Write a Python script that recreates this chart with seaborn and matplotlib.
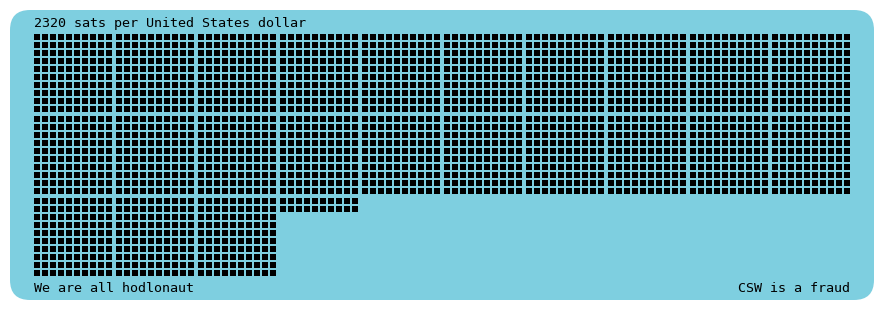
import matplotlib
matplotlib.use("Agg")
import matplotlib.pyplot as plt
from matplotlib.patches import FancyBboxPatch
import seaborn as sns
import pandas as pd

# ---- data ----
sats_per_dollar = 2320
currency = "United States dollar"
title_text = f"{sats_per_dollar} sats per {currency}"
footer_left = "We are all hodlonaut"
footer_right = "CSW is a fraud"

# ---- layout constants (pixels) ----
W, H = 884, 310
bg = "#7ecfe0"
x0, y0 = 34, 34
cell = 8
sq = 6
block_pitch = 82
blocks_per_row = 10

rows = []
for i in range(sats_per_dollar):
    block, within = divmod(i, 100)
    r, c = divmod(within, 10)
    by, bx = divmod(block, blocks_per_row)
    rows.append({
        "x": x0 + bx * block_pitch + c * cell + sq / 2,
        "y": y0 + by * block_pitch + r * cell + sq / 2,
    })
df = pd.DataFrame(rows)

sns.set_theme(style="white")
plt.rcParams["font.family"] = ["DejaVu Sans Mono"]

fig = plt.figure(figsize=(W / 100, H / 100), dpi=100)
fig.patch.set_facecolor("white")
ax = fig.add_axes([0, 0, 1, 1])

box = FancyBboxPatch((10 + 20, 10 + 20), W - 20 - 40, H - 20 - 40,
                     boxstyle="round,pad=20", facecolor=bg, edgecolor="none",
                     zorder=0)
ax.add_patch(box)

side_pt = sq * 72 / 100
sns.scatterplot(data=df, x="x", y="y", marker="s", s=side_pt ** 2,
                color="black", linewidth=0, ax=ax, zorder=2, legend=False)
ax.set_xlim(0, W)
ax.set_ylim(H, 0)
ax.axis("off")

fs = 9.6
ax.text(34, 27, title_text, fontsize=fs, color="black", ha="left",
        va="baseline")
ax.text(34, 292, footer_left, fontsize=fs, color="black", ha="left",
        va="baseline")
ax.text(850, 292, footer_right, fontsize=fs, color="black", ha="right",
        va="baseline")

fig.savefig("out.png", dpi=100, facecolor="white")
